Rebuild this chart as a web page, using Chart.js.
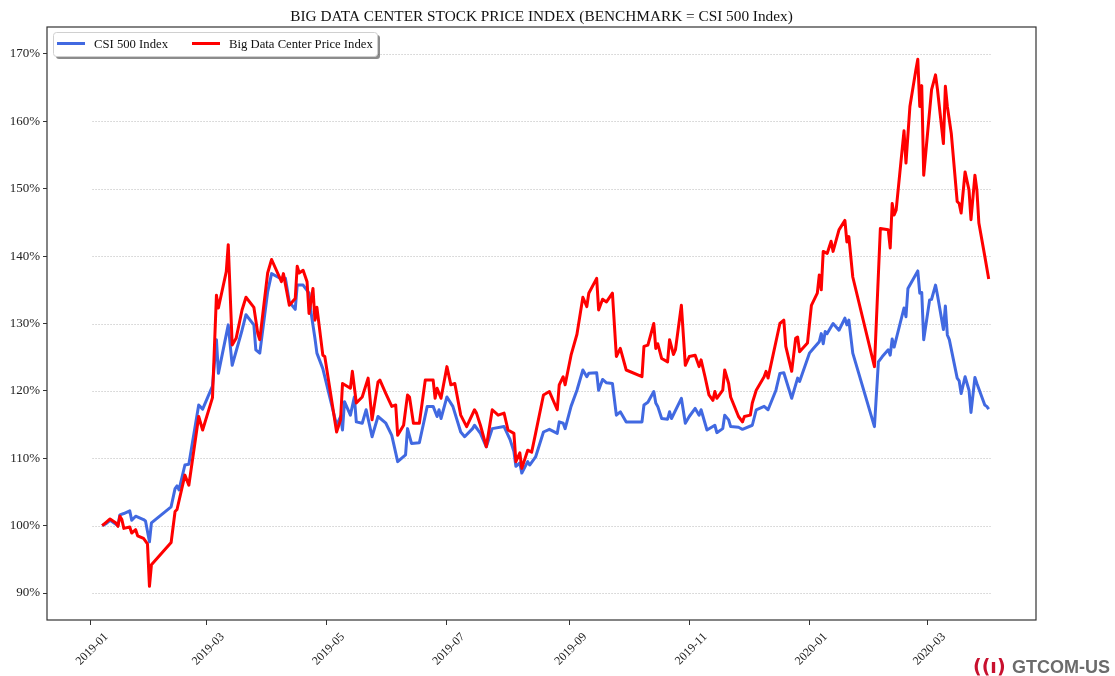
<!DOCTYPE html>
<html>
<head>
<meta charset="utf-8">
<title>Big Data Center Stock Price Index</title>
<script src="https://cdn.jsdelivr.net/npm/chart.js@4/dist/chart.umd.min.js"></script>
<style>
  html, body { margin: 0; padding: 0; background: #fff; }
  #chart { display: block; }
</style>
</head>
<body>
<canvas id="chart" width="1115" height="676"></canvas>
<script>
// --- Data ---
const titleText = 'BIG DATA CENTER STOCK PRICE INDEX (BENCHMARK = CSI 500 Index)';
const seriesNames = ['CSI 500 Index', 'Big Data Center Price Index'];

const csiDates = [
  '2019-01-07','2019-01-09','2019-01-11','2019-01-14','2019-01-15','2019-01-16','2019-01-18','2019-01-21',
  '2019-01-22','2019-01-24','2019-01-28','2019-01-29','2019-01-31','2019-02-01','2019-02-11','2019-02-13',
  '2019-02-14','2019-02-15','2019-02-18','2019-02-20','2019-02-25','2019-02-27','2019-03-04','2019-03-06',
  '2019-03-07','2019-03-12','2019-03-14','2019-03-19','2019-03-21','2019-03-25','2019-03-26','2019-03-28',
  '2019-04-01','2019-04-03','2019-04-08','2019-04-10','2019-04-12','2019-04-15','2019-04-16','2019-04-19',
  '2019-04-22','2019-04-23','2019-04-25','2019-04-26','2019-04-29','2019-05-06','2019-05-08','2019-05-09',
  '2019-05-10','2019-05-13','2019-05-15','2019-05-16','2019-05-19','2019-05-21','2019-05-24','2019-05-27',
  '2019-05-31','2019-06-03','2019-06-06','2019-06-10','2019-06-11','2019-06-13','2019-06-17','2019-06-21',
  '2019-06-24','2019-06-26','2019-06-27','2019-06-28','2019-07-01','2019-07-04','2019-07-08','2019-07-10',
  '2019-07-14','2019-07-15','2019-07-18','2019-07-21','2019-07-24','2019-07-30','2019-08-02','2019-08-04',
  '2019-08-05','2019-08-07','2019-08-08','2019-08-11','2019-08-12','2019-08-15','2019-08-19','2019-08-22',
  '2019-08-26','2019-08-27','2019-08-29','2019-08-30','2019-09-02','2019-09-05','2019-09-08','2019-09-10',
  '2019-09-11','2019-09-15','2019-09-16','2019-09-18','2019-09-20','2019-09-23','2019-09-25','2019-09-27',
  '2019-09-30','2019-10-08','2019-10-09','2019-10-11','2019-10-14','2019-10-15','2019-10-16','2019-10-18',
  '2019-10-21','2019-10-22','2019-10-23','2019-10-28','2019-10-30','2019-11-01','2019-11-04','2019-11-06',
  '2019-11-07','2019-11-10','2019-11-14','2019-11-15','2019-11-18','2019-11-19','2019-11-21','2019-11-22',
  '2019-11-26','2019-11-28','2019-12-03','2019-12-05','2019-12-09','2019-12-11','2019-12-15','2019-12-17',
  '2019-12-19','2019-12-23','2019-12-26','2019-12-27','2020-01-01','2020-01-03','2020-01-06','2020-01-07',
  '2020-01-08','2020-01-09','2020-01-10','2020-01-13','2020-01-16','2020-01-19','2020-01-20','2020-01-21',
  '2020-01-23','2020-02-03','2020-02-05','2020-02-07','2020-02-10','2020-02-11','2020-02-12','2020-02-13',
  '2020-02-18','2020-02-19','2020-02-20','2020-02-25','2020-02-26','2020-02-27','2020-02-28','2020-03-02',
  '2020-03-03','2020-03-05','2020-03-06','2020-03-09','2020-03-10','2020-03-11','2020-03-12','2020-03-16',
  '2020-03-17','2020-03-18','2020-03-20','2020-03-22','2020-03-23','2020-03-25','2020-03-26','2020-03-30',
  '2020-03-31','2020-04-01'
];
const csiValues = [
  100.0, 100.3, 100.8, 100.2, 100.0, 101.6, 101.8, 102.2,
  100.8, 101.4, 100.9, 100.7, 97.6, 100.4, 102.8, 105.5,
  105.9, 105.3, 109.0, 109.1, 117.9, 117.3, 120.7, 127.6,
  122.6, 129.8, 123.8, 129.0, 131.3, 129.8, 126.1, 125.6,
  134.7, 137.4, 136.6, 136.7, 133.2, 132.1, 135.7, 135.7,
  134.5, 131.7, 127.8, 125.6, 123.3, 114.9, 116.2, 114.2,
  118.4, 116.4, 119.1, 115.4, 115.2, 117.2, 113.2, 116.2,
  115.2, 113.4, 109.5, 110.5, 114.4, 112.2, 112.3, 117.7,
  117.7, 116.2, 117.2, 115.9, 119.1, 117.7, 113.9, 113.2,
  114.4, 114.9, 113.7, 111.7, 114.4, 114.7, 112.8, 111.0,
  108.8, 109.3, 107.8, 109.5, 109.0, 110.2, 113.9, 114.3,
  113.7, 115.4, 115.2, 114.4, 117.7, 120.1, 123.1, 122.1,
  122.6, 122.7, 120.1, 121.7, 121.2, 121.1, 116.4, 116.9,
  115.4, 115.4, 117.9, 118.3, 119.9, 118.2, 117.7, 115.9,
  115.8, 116.9, 115.9, 118.9, 115.2, 116.2, 117.4, 116.4,
  117.2, 114.2, 114.9, 113.8, 114.4, 116.4, 115.7, 114.7,
  114.6, 114.3, 114.9, 117.2, 117.7, 117.2, 120.1, 122.6,
  122.7, 118.9, 121.9, 121.4, 125.6, 126.3, 127.3, 128.5,
  127.0, 128.8, 128.5, 130.0, 129.0, 130.8, 129.8, 130.5,
  125.6, 114.7, 124.3, 125.1, 126.1, 125.3, 127.7, 126.5,
  132.3, 131.0, 135.2, 137.8, 134.5, 134.6, 127.6, 133.5,
  133.6, 135.7, 134.2, 129.1, 132.6, 128.3, 127.6, 121.9,
  121.5, 119.6, 122.1, 120.1, 116.8, 122.0, 121.1, 117.9,
  117.7, 117.3
];

const bdcDates = [
  '2019-01-07','2019-01-09','2019-01-11','2019-01-14','2019-01-15','2019-01-16','2019-01-17','2019-01-18',
  '2019-01-21','2019-01-22','2019-01-24','2019-01-25','2019-01-28','2019-01-29','2019-01-30','2019-01-31',
  '2019-02-01','2019-02-11','2019-02-13','2019-02-14','2019-02-18','2019-02-20','2019-02-25','2019-02-27',
  '2019-03-04','2019-03-06','2019-03-07','2019-03-11','2019-03-12','2019-03-14','2019-03-16','2019-03-19',
  '2019-03-21','2019-03-25','2019-03-27','2019-03-28','2019-04-01','2019-04-03','2019-04-08','2019-04-09',
  '2019-04-12','2019-04-15','2019-04-16','2019-04-17','2019-04-19','2019-04-21','2019-04-22','2019-04-24',
  '2019-04-25','2019-04-26','2019-04-29','2019-04-30','2019-05-06','2019-05-08','2019-05-09','2019-05-13',
  '2019-05-14','2019-05-16','2019-05-19','2019-05-22','2019-05-24','2019-05-27','2019-05-28','2019-05-31',
  '2019-06-03','2019-06-05','2019-06-06','2019-06-09','2019-06-11','2019-06-12','2019-06-14','2019-06-17',
  '2019-06-20','2019-06-24','2019-06-25','2019-06-26','2019-06-28','2019-07-01','2019-07-03','2019-07-05',
  '2019-07-08','2019-07-11','2019-07-15','2019-07-16','2019-07-18','2019-07-21','2019-07-24','2019-07-27',
  '2019-07-30','2019-08-01','2019-08-04','2019-08-05','2019-08-07','2019-08-08','2019-08-11','2019-08-13',
  '2019-08-15','2019-08-19','2019-08-22','2019-08-26','2019-08-27','2019-08-29','2019-08-30','2019-09-02',
  '2019-09-05','2019-09-08','2019-09-10','2019-09-11','2019-09-15','2019-09-16','2019-09-18','2019-09-20',
  '2019-09-23','2019-09-25','2019-09-27','2019-09-30','2019-10-08','2019-10-09','2019-10-11','2019-10-14',
  '2019-10-15','2019-10-16','2019-10-18','2019-10-21','2019-10-22','2019-10-24','2019-10-25','2019-10-28',
  '2019-10-30','2019-11-01','2019-11-04','2019-11-06','2019-11-07','2019-11-09','2019-11-11','2019-11-13',
  '2019-11-14','2019-11-15','2019-11-18','2019-11-19','2019-11-21','2019-11-22','2019-11-26','2019-11-28',
  '2019-11-29','2019-12-02','2019-12-03','2019-12-05','2019-12-09','2019-12-10','2019-12-11','2019-12-17',
  '2019-12-19','2019-12-20','2019-12-23','2019-12-25','2019-12-26','2019-12-27','2019-12-31','2020-01-02',
  '2020-01-05','2020-01-06','2020-01-07','2020-01-08','2020-01-10','2020-01-12','2020-01-13','2020-01-16',
  '2020-01-19','2020-01-20','2020-01-21','2020-01-23','2020-02-03','2020-02-06','2020-02-10','2020-02-11',
  '2020-02-12','2020-02-13','2020-02-14','2020-02-18','2020-02-19','2020-02-21','2020-02-24','2020-02-25',
  '2020-02-26','2020-02-27','2020-02-28','2020-03-03','2020-03-05','2020-03-06','2020-03-09','2020-03-10',
  '2020-03-11','2020-03-13','2020-03-16','2020-03-17','2020-03-18','2020-03-20','2020-03-22','2020-03-23',
  '2020-03-25','2020-03-26','2020-03-27','2020-03-30','2020-04-01'
];
const bdcValues = [
  100.0, 100.5, 101.0, 100.4, 99.9, 101.4, 100.9, 99.6,
  99.8, 98.9, 99.4, 98.5, 98.1, 97.7, 97.3, 91.0,
  94.2, 97.5, 102.1, 102.4, 107.5, 106.0, 116.2, 114.2,
  119.0, 134.2, 132.3, 137.7, 141.7, 126.8, 127.8, 132.0,
  133.9, 132.4, 128.5, 127.6, 137.5, 139.5, 136.2, 137.4,
  132.7, 133.7, 138.5, 137.5, 137.9, 136.2, 131.5, 135.2,
  130.5, 132.4, 125.3, 125.1, 113.9, 115.7, 121.1, 120.4,
  122.9, 118.2, 119.1, 121.9, 115.7, 121.3, 121.6, 119.6,
  117.7, 117.9, 113.4, 114.9, 119.4, 119.1, 115.2, 115.2,
  121.6, 121.6, 118.9, 120.4, 118.9, 123.6, 120.9, 121.1,
  116.4, 114.7, 117.2, 116.7, 114.9, 111.7, 117.2, 116.4,
  116.7, 114.2, 113.7, 109.5, 110.8, 108.5, 111.2, 110.9,
  113.7, 119.4, 119.9, 117.2, 120.9, 122.1, 120.9, 125.3,
  128.4, 133.9, 132.5, 134.5, 136.7, 132.0, 133.6, 133.2,
  134.5, 125.1, 126.3, 123.1, 122.1, 126.6, 126.8, 130.0,
  126.3, 127.0, 124.8, 124.3, 127.6, 125.4, 126.1, 132.7,
  123.8, 125.1, 125.3, 123.6, 124.6, 122.1, 119.4, 118.6,
  119.9, 118.9, 120.1, 123.1, 121.1, 119.1, 116.2, 115.4,
  116.2, 116.4, 118.2, 120.1, 122.1, 122.9, 121.9, 130.0,
  130.5, 126.6, 122.9, 127.8, 128.0, 125.8, 127.1, 132.7,
  134.5, 137.2, 135.0, 140.7, 140.4, 142.2, 140.7, 143.9,
  145.3, 142.1, 142.9, 136.9, 123.6, 144.1, 143.9, 141.2,
  147.8, 146.1, 146.8, 158.6, 153.8, 162.2, 167.6, 169.2,
  162.2, 165.3, 152.0, 164.7, 166.9, 164.7, 156.7, 165.2,
  162.2, 158.2, 148.1, 147.8, 146.4, 152.5, 149.8, 145.4,
  152.0, 149.8, 144.9, 140.0, 136.6
];

// axis setup
const xRange = ['2018-12-10', '2020-04-25'];
const gridSpan = ['2019-01-02', '2020-04-02'];
const tickDates = ['2019-01-01', '2019-03-01', '2019-05-01', '2019-07-01', '2019-09-01', '2019-11-01', '2020-01-01', '2020-03-01'];
const tickLabels = ['2019-01', '2019-03', '2019-05', '2019-07', '2019-09', '2019-11', '2020-01', '2020-03'];
const yTicks = [90, 100, 110, 120, 130, 140, 150, 160, 170];

const BLUE = '#4169e1';
const RED = '#ff0000';
const SERIF = '"Liberation Serif", "DejaVu Serif", serif';

// days since 2019-01-01
const epoch = Date.parse('2019-01-01');
const dayOf = (s) => (Date.parse(s) - epoch) / 864e5;
const toPoints = (dates, values) => dates.map((d, i) => ({ x: dayOf(d), y: values[i] }));

// dotted grid, box frame, title, legend and logo
const decorPlugin = {
  id: 'decor',
  beforeDatasetsDraw(chart) {
    const { ctx, scales } = chart;
    const x0 = scales.x.getPixelForValue(dayOf(gridSpan[0]));
    const x1 = scales.x.getPixelForValue(dayOf(gridSpan[1]));
    ctx.save();
    ctx.strokeStyle = '#c4c4c4';
    ctx.lineWidth = 0.8;
    ctx.setLineDash([1.5, 1.5]);
    yTicks.forEach((v) => {
      const y = Math.round(scales.y.getPixelForValue(v)) + 0.5;
      ctx.beginPath();
      ctx.moveTo(x0, y);
      ctx.lineTo(x1, y);
      ctx.stroke();
    });
    ctx.restore();
  },
  afterDraw(chart) {
    const { ctx, chartArea: a } = chart;
    ctx.save();

    // frame
    ctx.strokeStyle = '#333';
    ctx.lineWidth = 1.2;
    ctx.strokeRect(a.left, a.top, a.right - a.left, a.bottom - a.top);

    // title
    ctx.fillStyle = '#111';
    ctx.font = '15.3px ' + SERIF;
    ctx.textAlign = 'center';
    ctx.textBaseline = 'alphabetic';
    ctx.fillText(titleText, (a.left + a.right) / 2, 21);

    // legend box with shadow
    const lx = 53.5, ly = 32.5, lw = 324, lh = 24;
    ctx.fillStyle = 'rgba(0,0,0,0.45)';
    ctx.beginPath();
    ctx.roundRect(lx + 2.5, ly + 2.5, lw, lh, 3);
    ctx.fill();
    ctx.fillStyle = '#fff';
    ctx.strokeStyle = '#d0d0d0';
    ctx.lineWidth = 1;
    ctx.beginPath();
    ctx.roundRect(lx, ly, lw, lh, 3);
    ctx.fill();
    ctx.stroke();

    const items = [
      { label: seriesNames[0], color: BLUE, x: 57 },
      { label: seriesNames[1], color: RED, x: 192 }
    ];
    ctx.textAlign = 'left';
    ctx.font = '12.7px ' + SERIF;
    items.forEach((it) => {
      ctx.strokeStyle = it.color;
      ctx.lineWidth = 3;
      ctx.beginPath();
      ctx.moveTo(it.x, 43.5);
      ctx.lineTo(it.x + 28, 43.5);
      ctx.stroke();
      ctx.fillStyle = '#111';
      ctx.fillText(it.label, it.x + 37, 48);
    });

    // logo
    ctx.fillStyle = '#c8102e';
    ctx.font = 'bold 19px "DejaVu Sans", sans-serif';
    ctx.fillText('((ı)', 973, 673);
    ctx.fillStyle = '#6b6b6b';
    ctx.font = 'bold 18px "Liberation Sans", Arial, sans-serif';
    ctx.fillText('GTCOM-US', 1012, 673);
    ctx.restore();
  }
};

const ctx = document.getElementById('chart');
new Chart(ctx, {
  type: 'line',
  data: {
    datasets: [
      {
        label: seriesNames[1],
        data: toPoints(bdcDates, bdcValues),
        borderColor: RED,
        borderWidth: 3,
        pointRadius: 0,
        tension: 0,
        borderJoinStyle: 'round',
        order: 0
      },
      {
        label: seriesNames[0],
        data: toPoints(csiDates, csiValues),
        borderColor: BLUE,
        borderWidth: 3,
        pointRadius: 0,
        tension: 0,
        borderJoinStyle: 'round',
        order: 1
      }
    ]
  },
  options: {
    responsive: false,
    animation: false,
    devicePixelRatio: 1,
    layout: { padding: { top: 27, right: 79, left: 0, bottom: 0 } },
    plugins: {
      legend: { display: false },
      title: { display: false },
      tooltip: { enabled: false }
    },
    scales: {
      x: {
        type: 'linear',
        min: dayOf(xRange[0]),
        max: dayOf(xRange[1]),
        afterBuildTicks: (scale) => {
          scale.ticks = tickDates.map((d) => ({ value: dayOf(d) }));
        },
        afterFit: (scale) => { scale.height = 56; },
        border: { display: false },
        grid: { drawOnChartArea: false, tickLength: 5, color: '#333', lineWidth: 1 },
        ticks: {
          autoSkip: false,
          minRotation: 45,
          maxRotation: 45,
          padding: 5,
          labelOffset: 16,
          color: '#222',
          font: { family: SERIF, size: 12 },
          callback: (v, i) => tickLabels[i]
        }
      },
      y: {
        min: 86,
        max: 174,
        afterBuildTicks: (scale) => {
          scale.ticks = yTicks.map((v) => ({ value: v }));
        },
        afterFit: (scale) => { scale.width = 47; },
        border: { display: false },
        grid: { drawOnChartArea: false, tickLength: 4, color: '#333', lineWidth: 1 },
        ticks: {
          padding: 3,
          color: '#222',
          font: { family: SERIF, size: 13 },
          callback: (v) => v + '%'
        }
      }
    }
  },
  plugins: [decorPlugin]
});
</script>
</body>
</html>
